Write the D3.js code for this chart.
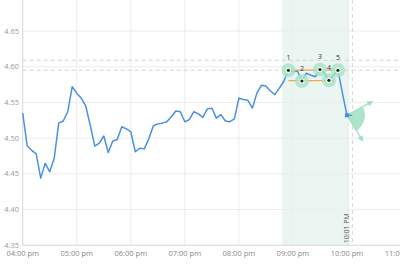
<!DOCTYPE html>
<html>
<head>
<meta charset="utf-8">
<script src="https://cdn.jsdelivr.net/npm/d3@7"></script>
<style>
  body { margin: 0; background: #fff; }
  svg { display: block; font-family: "Open Sans", "DejaVu Sans", sans-serif; }
</style>
</head>
<body>
<svg id="chart"></svg>
<script>
// price every 5 minutes, 04:00 pm -> 10:00 pm
const startTime = "16:00";
const prices = [
  4.535, 4.489, 4.483, 4.478, 4.444, 4.465, 4.453, 4.472, 4.521, 4.524,
  4.537, 4.572, 4.563, 4.556, 4.545, 4.518, 4.489, 4.493, 4.503, 4.480,
  4.496, 4.498, 4.516, 4.513, 4.509, 4.481, 4.486, 4.485, 4.499, 4.517,
  4.520, 4.521, 4.523, 4.530, 4.538, 4.537, 4.523, 4.526, 4.537, 4.534,
  4.529, 4.541, 4.542, 4.528, 4.533, 4.524, 4.523, 4.527, 4.556, 4.554,
  4.553, 4.542, 4.563, 4.574, 4.573, 4.566, 4.561, 4.570, 4.580, 4.595,
  4.593, 4.594, 4.580, 4.591, 4.588, 4.586, 4.596, 4.591, 4.581, 4.588,
  4.595, 4.563, 4.532
];
const patternIdx = [59, 62, 66, 68, 70];
const patternLabels = ["1", "2", "3", "4", "5"];
const levelLines = [4.609, 4.595];
const shadeRange = ["20:48", "22:03"];
const cursorTime = "22:06";
const cursorLabel = "10:01 PM";
const yTicks = [4.35, 4.40, 4.45, 4.50, 4.55, 4.60, 4.65];
const xDomain = ["16:00", "23:00"];

const width = 400, height = 266;
const parse = d3.timeParse("%H:%M");
const t0 = parse(startTime);
const data = prices.map((v, i) => ({ t: d3.timeMinute.offset(t0, i * 5), v: v, i: i }));

const svg = d3.select("#chart").attr("width", width).attr("height", height);

const x = d3.scaleTime().domain(xDomain.map(parse)).range([22.7, 401]);
const y = d3.scaleLinear().domain([4.35, 4.70]).range([245.3, -4.7]);
const plotTop = 0, plotBottom = y(4.35);

const defs = svg.append("defs");
const pat = defs.append("pattern").attr("id", "dots")
  .attr("width", 8).attr("height", 8).attr("patternUnits", "userSpaceOnUse");
pat.append("rect").attr("width", 8).attr("height", 8).attr("fill", "#ebf6f2");
pat.append("circle").attr("cx", 4).attr("cy", 4).attr("r", 0.4).attr("fill", "#d3e8e1");

// shaded zone
svg.append("rect")
  .attr("x", x(parse(shadeRange[0])))
  .attr("y", plotTop)
  .attr("width", x(parse(shadeRange[1])) - x(parse(shadeRange[0])))
  .attr("height", plotBottom - plotTop)
  .attr("fill", "url(#dots)");

// grid
svg.append("g").selectAll("line")
  .data(yTicks)
  .join("line")
  .attr("x1", x.range()[0]).attr("x2", width)
  .attr("y1", d => y(d)).attr("y2", d => y(d))
  .attr("stroke", "#ececec").attr("stroke-width", 1);

const hours = x.ticks(d3.timeHour.every(1));
svg.append("g").selectAll("line")
  .data(hours)
  .join("line")
  .attr("x1", d => x(d)).attr("x2", d => x(d))
  .attr("y1", plotTop).attr("y2", plotBottom)
  .attr("stroke", "#ececec").attr("stroke-width", 1);

// axis lines
svg.append("line").attr("x1", x.range()[0]).attr("x2", x.range()[0])
  .attr("y1", plotTop).attr("y2", plotBottom).attr("stroke", "#dcdcdc");
svg.append("line").attr("x1", x.range()[0]).attr("x2", width)
  .attr("y1", plotBottom).attr("y2", plotBottom).attr("stroke", "#dcdcdc");

// y labels
svg.append("g").selectAll("text")
  .data(yTicks)
  .join("text")
  .attr("x", 19).attr("y", d => y(d) + 2.5)
  .attr("text-anchor", "end")
  .attr("font-size", "7.5px")
  .attr("fill", "#999")
  .text(d => d.toFixed(2));

// x labels
const fmt = d3.timeFormat("%I:%M %p");
svg.append("g").selectAll("text")
  .data(hours)
  .join("text")
  .attr("x", d => x(d)).attr("y", 256)
  .attr("text-anchor", "middle")
  .attr("font-size", "7.5px")
  .attr("fill", "#888")
  .text(d => fmt(d).toLowerCase());

// level lines (dashed)
svg.append("g").selectAll("line")
  .data(levelLines)
  .join("line")
  .attr("x1", x.range()[0]).attr("x2", width)
  .attr("y1", d => y(d)).attr("y2", d => y(d))
  .attr("stroke", "#d4d4d4").attr("stroke-width", 1)
  .attr("stroke-dasharray", "4,3");

// cursor line
const cx = x(parse(cursorTime));
svg.append("line")
  .attr("x1", cx).attr("x2", cx).attr("y1", plotTop).attr("y2", plotBottom)
  .attr("stroke", "#d4d4d4").attr("stroke-dasharray", "4,3");
svg.append("text")
  .attr("transform", `translate(${cx - 3.5},${plotBottom - 2}) rotate(-90)`)
  .attr("font-size", "7px")
  .attr("fill", "#555")
  .text(cursorLabel);

// price line
const line = d3.line().x(d => x(d.t)).y(d => y(d.v));
svg.append("path")
  .datum(data)
  .attr("d", line)
  .attr("fill", "none")
  .attr("stroke", "#4a90e2")
  .attr("stroke-width", 1.5)
  .attr("stroke-linejoin", "round");

// forecast cone from the last point
const last = data[data.length - 1];
const lx = x(last.t), ly = y(last.v);
const cone = d3.arc().innerRadius(0).outerRadius(18)
  .startAngle(Math.PI / 2 - 0.5).endAngle(Math.PI / 2 + 1.05);
svg.append("path")
  .attr("transform", `translate(${lx},${ly})`)
  .attr("d", cone())
  .attr("fill", "#9fe0c2").attr("opacity", 0.85);
defs.append("marker").attr("id", "arrow")
  .attr("viewBox", "0 0 10 10").attr("refX", 5).attr("refY", 5)
  .attr("markerWidth", 5).attr("markerHeight", 5).attr("orient", "auto")
  .append("path").attr("d", "M0,0L10,5L0,10z").attr("fill", "#9fe0c2");
[[-0.5, 27], [1.02, 28]].forEach(([a, r]) => {
  svg.append("line")
    .attr("x1", lx).attr("y1", ly)
    .attr("x2", lx + r * Math.cos(a)).attr("y2", ly + r * Math.sin(a))
    .attr("stroke", "#9fe0c2").attr("stroke-width", 1.2)
    .attr("marker-end", "url(#arrow)");
});
svg.append("rect").attr("x", lx - 2).attr("y", ly - 2).attr("width", 4).attr("height", 4)
  .attr("fill", "#4a90e2");
svg.append("line").attr("x1", lx).attr("x2", lx + 5).attr("y1", ly).attr("y2", ly)
  .attr("stroke", "#4a90e2").attr("stroke-width", 1.2);

// pattern annotation
const pts = patternIdx.map((i, k) => ({ d: data[i], label: patternLabels[k] }));
const peaks = pts.filter((p, k) => k % 2 === 0);
const troughs = pts.filter((p, k) => k % 2 === 1);
const x1 = x(pts[0].d.t), x5 = x(pts[4].d.t);
const peakV = d3.mean(peaks, p => p.d.v), troughV = d3.mean(troughs, p => p.d.v);
svg.append("line").attr("x1", x1 + 3).attr("x2", x5).attr("y1", y(peakV)).attr("y2", y(peakV))
  .attr("stroke", "#f5a54a").attr("stroke-width", 1.3);
svg.append("line").attr("x1", x1).attr("x2", x5 - 4).attr("y1", y(troughV)).attr("y2", y(troughV))
  .attr("stroke", "#f5a54a").attr("stroke-width", 1.3);

const pg = svg.append("g").selectAll("g")
  .data(pts)
  .join("g")
  .attr("transform", p => `translate(${x(p.d.t)},${y(p.d.v)})`);
pg.append("circle").attr("r", 7).attr("fill", "#a6e3c4").attr("opacity", 0.8);
pg.append("circle").attr("r", 2.6).attr("fill", "#fff");
pg.append("circle").attr("r", 1.6).attr("fill", "#222");
pg.append("text")
  .attr("y", -10.5)
  .attr("text-anchor", "middle")
  .attr("font-size", "7px")
  .attr("fill", "#333")
  .text(p => p.label);
</script>
</body>
</html>
